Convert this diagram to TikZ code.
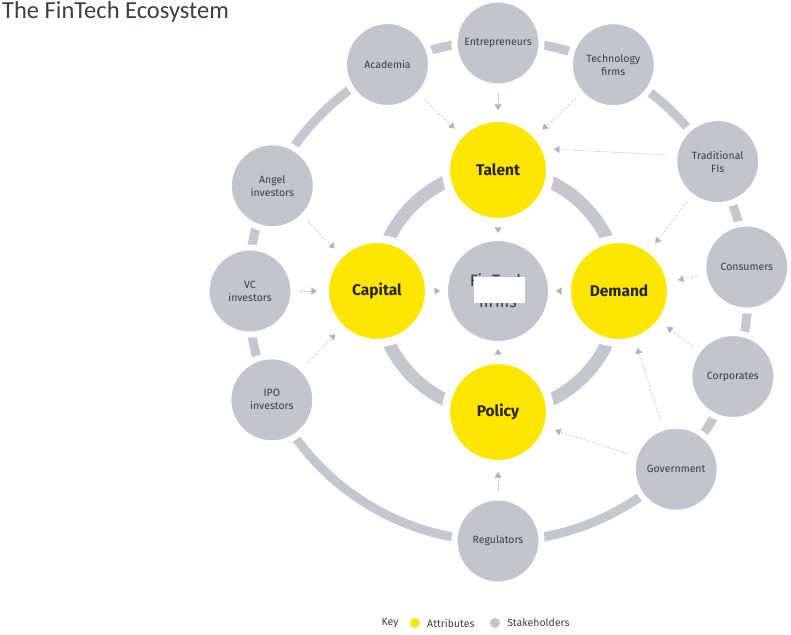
\documentclass[tikz,border=0pt]{standalone}
\usepackage{fontspec}
\setmainfont{Fira Sans}
\newfontfamily\titlefont{Carlito}
\usepackage{tikz}
\usetikzlibrary{arrows.meta,positioning}

\definecolor{eyyellow}{HTML}{FFE600}
\definecolor{holdgray}{HTML}{C4C4CD}
\definecolor{ringgray}{HTML}{C6C6CE}
\definecolor{linegray}{HTML}{C4C6CF}
\definecolor{tipgray}{HTML}{AEB2C6}
\definecolor{labtext}{HTML}{3C3C4A}

\begin{document}
\begin{tikzpicture}[
    x=1pt, y=1pt,
    holder/.style={circle, fill=holdgray, draw=white, line width=6pt, minimum size=87pt,
                   inner sep=0pt, align=center, text=labtext,
                   font=\fontsize{10.5}{13}\selectfont},
    attr/.style={circle, fill=eyyellow, draw=white, line width=8pt, minimum size=104pt,
                 inner sep=0pt, align=center, text=black!85,
                 font=\fontsize{15.5}{17}\selectfont\bfseries},
    dep/.style={draw=linegray, line width=0.6pt, dash pattern=on 2.5pt off 1.5pt,
                shorten >=4pt, shorten <=4pt,
                -{Triangle[length=5.5pt,width=7pt,color=tipgray]}},
    legtext/.style={font=\fontsize{10.5}{12}\selectfont, text=labtext, inner sep=1pt},
    legdot/.style={circle, minimum size=10pt, inner sep=0pt},
]
\useasboundingbox (-498,291) rectangle (293,-343);

\node[anchor=north west, inner sep=0pt, text=labtext,
      font=\titlefont\fontsize{24.5}{27}\selectfont] (title) at (-496,290) {The FinTech Ecosystem};

% rings
\draw[ringgray, line width=9pt] (0,0) circle (250);
\draw[ringgray, line width=13pt] (0,0) circle (121);

% centre and attributes
\node[holder, line width=4pt, minimum size=104pt, font=\fontsize{16.5}{21}\selectfont] (fintech) at (0,0) {FinTech\\firms};
\node[fill=white, minimum width=51pt, minimum height=26pt, inner sep=0pt] (mask) at (1,1) {};
\node[attr] (talent)  at (90:121)  {Talent};
\node[attr] (capital) at (180:121) {Capital};
\node[attr] (demand)  at (0:121)   {Demand};
\node[attr] (policy)  at (270:121) {Policy};

% stakeholders
\node[holder] (entre)  at (90:248)    {Entrepreneurs};
\node[holder] (acad)   at (116:252)   {Academia};
\node[holder] (tech)   at (63:254)    {Technology\\firms};
\node[holder] (tradfi) at (30.5:255)  {Traditional\\FIs};
\node[holder] (consum) at (5.5:250)   {Consumers};
\node[holder] (corp)   at (-20:250)   {Corporates};
\node[holder] (govt)   at (-45:252)   {Government};
\node[holder] (regul)  at (-90:250)   {Regulators};
\node[holder] (ipo)    at (205.7:251) {IPO\\investors};
\node[holder] (vc)     at (180:248)   {VC\\investors};
\node[holder] (angel)  at (155:249)   {Angel\\investors};

% flows
\draw[dep] (acad) -- (talent);
\draw[dep] (entre) -- (talent);
\draw[dep] (tech) -- (talent);
\draw[dep] (tradfi.172) -- (talent.22);
\draw[dep] (tradfi) -- (demand);
\draw[dep] (consum) -- (demand);
\draw[dep] (corp) -- (demand);
\draw[dep] (govt) -- (demand);
\draw[dep] (govt) -- (policy);
\draw[dep] (regul) -- (policy);
\draw[dep] (angel) -- (capital);
\draw[dep] (vc) -- (capital);
\draw[dep] (ipo) -- (capital);
\draw[dep] (talent) -- (fintech);
\draw[dep] (capital) -- (fintech);
\draw[dep] (demand) -- (fintech);
\draw[dep] (policy) -- (fintech);

% key
\node[legtext] (key) at (-108,-332) {Key};
\node[legdot, fill=eyyellow, right=10pt of key] (attrdot) {};
\node[legtext, right=6pt of attrdot] (attrkey) {Attributes};
\node[legdot, fill=holdgray, right=14pt of attrkey] (holddot) {};
\node[legtext, right=6pt of holddot] (holdkey) {Stakeholders};
\end{tikzpicture}
\end{document}
